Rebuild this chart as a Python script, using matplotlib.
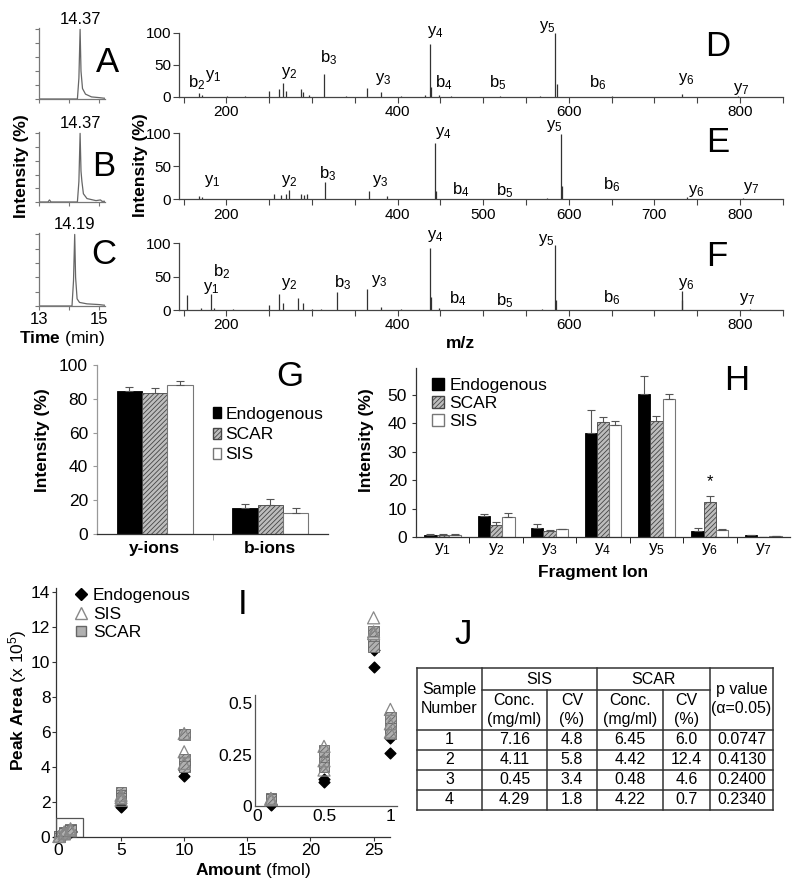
import numpy as np
import matplotlib
matplotlib.use("Agg")
import matplotlib.pyplot as plt
from matplotlib.patches import Patch, Rectangle
from matplotlib.lines import Line2D

plt.rcParams["font.family"] = ["Liberation Sans", "DejaVu Sans"]
plt.rcParams["mathtext.fontset"] = "custom"
plt.rcParams["mathtext.rm"] = "Liberation Sans"
plt.rcParams["mathtext.it"] = "Liberation Sans:italic"
plt.rcParams["mathtext.bf"] = "Liberation Sans:bold"
plt.rcParams["hatch.linewidth"] = 0.6

# ---------------- A-C: chromatograms ----------------
rt_a = [13.0, 14.28, 14.33, 14.37, 14.40, 14.45, 14.55, 14.75, 15.0, 15.2]
int_a = [0, 0, 30, 100, 40, 15, 7, 3, 2, 1]
rt_b = [13.0, 13.30, 13.35, 13.40, 14.28, 14.33, 14.37, 14.40, 14.43, 14.48,
        14.60, 14.90, 15.05, 15.10, 15.2]
int_b = [0, 0, 3, 0, 0, 30, 100, 45, 30, 12, 5, 2, 3, 1, 1]
rt_c = [13.0, 14.10, 14.15, 14.19, 14.22, 14.27, 14.35, 14.60, 15.0, 15.2]
int_c = [0, 0, 35, 100, 40, 10, 5, 3, 2, 1]
apex_labels = ["14.37", "14.37", "14.19"]

# ---------------- D-F: MS/MS spectra ----------------
mz_d = [168.2, 171.0, 200.6, 222, 250.0, 261.6, 266.3, 269.4, 286.8, 289.4, 296.4,
        314.6, 340, 363.9, 380.6, 404.5, 431.6, 437.7, 439.2, 449.0, 462.4, 520,
        566.6, 584.4, 586.0, 650, 731.9, 798.3]
int_d = [7, 3, 1, 1, 10, 12, 22, 10, 12, 8, 3, 36, 1, 14, 8, 2, 3, 83, 15, 3, 2, 1,
         2, 100, 20, 1, 5, 2]
mz_e = [168.2, 171.3, 200.6, 255.8, 263.6, 269.4, 273.2, 286.8, 290.6, 294.4, 315.7,
        367.0, 387.1, 430, 444.3, 445.5, 574.4, 591.0, 592.1, 738.5, 804.0]
int_e = [5, 3, 1, 8, 7, 8, 14, 8, 6, 8, 26, 13, 5, 1, 85, 12, 2, 99, 20, 3, 2]
mz_f = [154.3, 169.8, 181.7, 185.2, 207.5, 250.0, 261.6, 266.6, 283.6, 289.8, 300.2,
        311.1, 329.6, 364.4, 380.6, 404.5, 437.7, 439.2, 449.0, 568.6, 584.4, 585.6,
        731.9, 732.7, 811.8]
int_f = [22.5, 3, 23.5, 3, 1, 7.5, 23.5, 10, 18.5, 10, 2, 1, 26.5, 31, 5, 2, 93.5, 20,
         3, 1, 97.5, 15, 29, 15, 1]

ions_d = ["b$_2$", "y$_1$", "y$_2$", "b$_3$", "y$_3$", "y$_4$", "b$_4$", "b$_5$",
          "y$_5$", "b$_6$", "y$_6$", "y$_7$"]
ions_e = ["y$_1$", "y$_2$", "b$_3$", "y$_3$", "y$_4$", "b$_4$", "b$_5$", "y$_5$",
          "b$_6$", "y$_6$", "y$_7$"]
ions_f = ["y$_1$", "b$_2$", "y$_2$", "b$_3$", "y$_3$", "y$_4$", "b$_4$", "b$_5$",
          "y$_5$", "b$_6$", "y$_6$", "y$_7$"]

# ---------------- G: summed y / b ions ----------------
groups_g = ["y-ions", "b-ions"]
endo_g = [84.8, 15.2]
endo_g_err = [2.0, 2.6]
scar_g = [83.2, 17.2]
scar_g_err = [3.4, 3.5]
sis_g = [88.2, 12.2]
sis_g_err = [2.3, 3.0]

# ---------------- H: individual fragment ions ----------------
ions_h = ["y$_1$", "y$_2$", "y$_3$", "y$_4$", "y$_5$", "y$_6$", "y$_7$"]
endo_h = [0.7, 7.3, 3.3, 36.5, 50.3, 2.2, 0.6]
endo_h_err = [0.2, 0.9, 1.4, 8.2, 6.4, 0.9, 0.1]
scar_h = [0.8, 4.1, 2.2, 40.6, 40.9, 12.2, 0.1]
scar_h_err = [0.1, 1.2, 0.2, 1.5, 1.8, 2.2, 0.05]
sis_h = [0.8, 7.1, 2.7, 39.6, 48.6, 2.6, 0.35]
sis_h_err = [0.1, 1.4, 0.2, 1.2, 1.8, 0.2, 0.05]

# ---------------- I: calibration ----------------
amounts = [0.1, 0.5, 1, 5, 10, 25]
endo_i = [[0.005, 0.118, 0.26, 1.71, 3.47, 9.7],
          [0.008, 0.13, 0.33, 1.75, 3.8, 10.65]]
sis_i = [[0.037, 0.29, 0.47, 2.38, 5.9, 12.5],
         [0.033, 0.22, 0.40, 2.25, 4.86, 11.7],
         [0.03, 0.175, 0.36, 2.1, 4.2, 11.6]]
scar_i = [[0.037, 0.27, 0.43, 2.57, 5.85, 11.75],
          [0.033, 0.21, 0.38, 2.4, 4.4, 11.0],
          [0.03, 0.19, 0.35, 2.2, 4.0, 10.85]]

# ---------------- J: table ----------------
samples = [1, 2, 3, 4]
sis_conc = [7.16, 4.11, 0.45, 4.29]
sis_cv = [4.8, 5.8, 3.4, 1.8]
scar_conc = [6.45, 4.42, 0.48, 4.22]
scar_cv = [6.0, 12.4, 4.6, 0.7]
p_values = [0.0747, 0.4130, 0.2400, 0.2340]

W, H = 800, 892
fig = plt.figure(figsize=(W / 100, H / 100), dpi=100)


def px_axes(left, top, right, bottom):
    return fig.add_axes([left / W, 1 - bottom / H, (right - left) / W, (bottom - top) / H])


def style_axes(ax, color="#333333"):
    ax.spines["top"].set_visible(False)
    ax.spines["right"].set_visible(False)
    for s in ("left", "bottom"):
        ax.spines[s].set_color(color)
        ax.spines[s].set_linewidth(0.9)
    ax.tick_params(colors=color, labelcolor="black", direction="out")


# ---- chromatograms ----
chrom = [(rt_a, int_a, 28, 99), (rt_b, int_b, 132, 202), (rt_c, int_c, 233, 306)]
for i, (t, y, top, bot) in enumerate(chrom):
    ax = px_axes(39, top, 105, bot)
    ax.plot(t, y, color="#666666", lw=0.9)
    ax.set_xlim(13, 15.2)
    ax.set_ylim(0, 102)
    style_axes(ax, "#777777")
    ax.set_yticks([0, 20, 40, 60, 80, 100])
    ax.set_yticklabels([])
    ax.set_xticks([13, 14, 15])
    if i == 2:
        ax.set_xticklabels(["13", "", "15"], fontsize=12)
    else:
        ax.set_xticklabels([])
    ax.tick_params(length=3, pad=1)
    ax.text(14.37 if i < 2 else 14.19, 104, apex_labels[i], ha="center", va="bottom",
            fontsize=12)

# ---- spectra ----
spectra = [
    (mz_d, int_d, ions_d,
     [(165.5, 22), (185, 33), (273.5, 37.5), (320, 61), (383.5, 28), (444, 102),
      (454.5, 22), (517, 23), (575, 109), (634, 23), (737, 28), (802, 12.5)],
     33, 97, [200, 400, 600, 800]),
    (mz_e, int_e, ions_e,
     [(183, 28), (273.5, 28), (318.5, 38.5), (380, 28), (453, 100), (474, 14),
      (525, 12.5), (583, 111), (650, 21.5), (749, 12.5), (813, 17)],
     133.3, 199.3, [200, 400, 500, 600, 700, 800]),
    (mz_f, int_f, ions_f,
     [(182, 33), (194.5, 57), (273.5, 39), (336, 40.5), (379, 43.5), (444, 111),
      (470.5, 16.5), (525, 13.5), (574, 105), (650, 18), (737, 39), (808, 16.5)],
     243.3, 310, [200, 400, 600, 800]),
]
for mz, inten, ions, pos, top, bot, shown in spectra:
    ax = px_axes(179.3, top, 782.7, bot)
    ax.vlines(mz, 0, inten, color="#333333", lw=0.9)
    ax.set_xlim(145, 845)
    ax.set_ylim(0, 100)
    style_axes(ax, "#444444")
    ticks = list(range(150, 851, 50))
    ax.set_xticks(ticks)
    ax.set_xticklabels([str(v) if v in shown else "" for v in ticks], fontsize=11)
    ax.set_yticks([0, 50, 100])
    ax.set_yticklabels(["0", "50", "100"], fontsize=11)
    ax.tick_params(length=4, pad=2)
    for lab, (x, y) in zip(ions, pos):
        ax.text(x, y, lab, ha="center", va="center", fontsize=12, clip_on=False)

# ---- G ----
axg = px_axes(97, 365, 328, 534)
xg = np.arange(len(groups_g))
bw = 0.22
axg.bar(xg - bw, endo_g, bw, color="black", edgecolor="black", lw=0.6)
axg.bar(xg, scar_g, bw, color="#bdbdbd", edgecolor="#444444", hatch="///////", lw=0.6)
axg.bar(xg + bw, sis_g, bw, color="white", edgecolor="#777777", lw=0.8)
for off, vals, err in [(-bw, endo_g, endo_g_err), (0, scar_g, scar_g_err),
                       (bw, sis_g, sis_g_err)]:
    axg.errorbar(xg + off, vals, yerr=[np.zeros(len(err)), err], fmt="none",
                 ecolor="#555555", elinewidth=0.8, capsize=3, capthick=0.8)
axg.set_xlim(-0.5, 1.5)
axg.set_ylim(0, 100)
style_axes(axg, "#333333")
axg.spines["left"].set_color("#999999")
axg.set_yticks(range(0, 101, 20))
axg.tick_params(axis="y", labelsize=12.5, length=3, colors="#999999", labelcolor="black")
axg.set_xticks(xg)
axg.set_xticklabels(groups_g, fontsize=12.5, fontweight="bold")
axg.tick_params(axis="x", length=0, pad=5)
axg.set_xticks([0.5], minor=True)
axg.tick_params(axis="x", which="minor", length=4, color="#999999")
leg_handles = [Patch(facecolor="black", edgecolor="black"),
               Patch(facecolor="#bdbdbd", edgecolor="#444444", hatch="///////"),
               Patch(facecolor="white", edgecolor="#777777")]
axg.legend(leg_handles, ["Endogenous", "SCAR", "SIS"], loc="upper left",
           bbox_to_anchor=(213 / W, 1 - 407 / H), bbox_transform=fig.transFigure,
           frameon=False, fontsize=12.5, handlelength=0.45, handleheight=0.6,
           handletextpad=0.25, labelspacing=0.3, borderpad=0, borderaxespad=0)

# ---- H ----
axh = px_axes(416, 368, 790, 537)
xh = np.arange(len(ions_h))
bw = 0.23
axh.bar(xh - bw, endo_h, bw, color="black", edgecolor="black", lw=0.6)
axh.bar(xh, scar_h, bw, color="#bdbdbd", edgecolor="#444444", hatch="///////", lw=0.6)
axh.bar(xh + bw, sis_h, bw, color="white", edgecolor="#777777", lw=0.8)
for off, vals, err in [(-bw, endo_h, endo_h_err), (0, scar_h, scar_h_err),
                       (bw, sis_h, sis_h_err)]:
    axh.errorbar(xh + off, vals, yerr=[np.zeros(len(err)), err], fmt="none",
                 ecolor="#555555", elinewidth=0.8, capsize=3, capthick=0.8)
axh.text(5, 19.4, "*", ha="center", va="center", fontsize=12)
axh.set_xlim(-0.5, 6.5)
axh.set_ylim(0, 59.5)
style_axes(axh, "#333333")
axh.set_yticks(range(0, 51, 10))
axh.tick_params(axis="y", labelsize=12.5, length=3)
axh.set_xticks(xh)
axh.set_xticklabels(ions_h, fontsize=12.5)
axh.tick_params(axis="x", length=0, pad=3)
axh.set_xticks(np.arange(0.5, 6, 1), minor=True)
axh.tick_params(axis="x", which="minor", length=4)
axh.legend(leg_handles, ["Endogenous", "SCAR", "SIS"], loc="upper left",
           bbox_to_anchor=(432 / W, 1 - 378 / H), bbox_transform=fig.transFigure,
           frameon=False, fontsize=12.5, handlelength=0.7, handleheight=0.7,
           handletextpad=0.3, labelspacing=0.15, borderpad=0, borderaxespad=0)

# ---- I ----
axi = px_axes(56, 588, 390, 837)


def draw_cal(ax):
    for rep in endo_i:
        ax.scatter(amounts, rep, marker="D", s=30, color="black", zorder=3,
                   clip_on=False)
    for rep in scar_i:
        ax.scatter(amounts, rep, marker="s", s=60, facecolor="#b0b0b0",
                   edgecolor="#666666", hatch="//////", lw=0.6, zorder=4, clip_on=False)
    for rep in sis_i:
        ax.scatter(amounts, rep, marker="^", s=75, facecolor="none",
                   edgecolor="#888888", lw=0.9, zorder=5, clip_on=False)


draw_cal(axi)
axi.set_xlim(-0.15, 26.3)
axi.set_ylim(0, 14.2)
style_axes(axi, "#333333")
axi.set_xticks(range(0, 26, 5))
axi.set_yticks(range(0, 15, 2))
axi.tick_params(labelsize=12.5, length=3, pad=1)
axi.add_patch(Rectangle((-0.15, 0), 2.1, 1.1, fill=False, edgecolor="#555555", lw=0.9,
                        zorder=6))
axi.legend([Line2D([], [], marker="D", color="black", ls="none", markersize=6),
            Line2D([], [], marker="^", markerfacecolor="none", markeredgecolor="#888888",
                   ls="none", markersize=9),
            Line2D([], [], marker="s", markerfacecolor="#b0b0b0",
                   markeredgecolor="#666666", ls="none", markersize=7)],
           ["Endogenous", "SIS", "SCAR"], loc="upper left",
           bbox_to_anchor=(74 / W, 1 - 588 / H), bbox_transform=fig.transFigure,
           frameon=False, fontsize=12.5, handlelength=0.8, handletextpad=0.3,
           labelspacing=0.2, borderpad=0, borderaxespad=0)

axin = px_axes(255, 695, 397, 806)
axin.patch.set_alpha(0)
draw_cal(axin)
axin.set_xlim(-0.02, 1.05)
axin.set_ylim(0, 0.54)
style_axes(axin, "#555555")
axin.set_xticks([0, 0.5, 1])
axin.set_xticklabels(["0", "0.5", "1"])
axin.set_yticks([0, 0.25, 0.5])
axin.set_yticklabels(["0", "0.25", "0.5"])
axin.tick_params(labelsize=12.5, length=0, pad=2)

# ---- figure-level text and table J ----
axf = fig.add_axes([0, 0, 1, 1])
axf.set_xlim(0, W)
axf.set_ylim(H, 0)
axf.axis("off")

for letter, x, y in [("A", 107, 62), ("B", 104, 166), ("C", 104, 254), ("D", 718, 47),
                     ("E", 718, 143), ("F", 717, 257), ("G", 290, 377), ("H", 737, 380),
                     ("I", 243, 605), ("J", 463, 635)]:
    axf.text(x, y, letter, ha="center", va="center", fontsize=25)

bold_lab = dict(fontsize=12.5, fontweight="bold", ha="center", va="center")
axf.text(22, 166, "Intensity (%)", rotation=90, **bold_lab)
axf.text(140, 165, "Intensity (%)", rotation=90, **bold_lab)
axf.text(43, 440, "Intensity (%)", rotation=90, **bold_lab)
axf.text(366, 440, "Intensity (%)", rotation=90, **bold_lab)
axf.text(460, 343, "m/z", **bold_lab)
axf.text(593, 572, "Fragment Ion", **bold_lab)
axf.text(62, 338, r"$\bf{Time}$ (min)", fontsize=12.5, ha="center", va="center")
axf.text(18, 700, r"$\bf{Peak\ Area}$ (x 10$^5$)", fontsize=12.5, rotation=90,
         ha="center", va="center")
axf.text(253, 870, r"$\bf{Amount}$ (fmol)", fontsize=12.5, ha="center", va="center")

cols = [417, 482, 547, 597, 663, 710, 773]
rows = [668, 690, 730, 750, 770, 790, 810]
lc = dict(color="#333333", lw=1.1)
for y in [668, 730, 750, 770, 790, 810]:
    axf.plot([cols[0], cols[-1]], [y, y], **lc)
axf.plot([cols[1], cols[5]], [690, 690], **lc)
for x in [cols[0], cols[1], cols[3], cols[5], cols[6]]:
    axf.plot([x, x], [668, 810], **lc)
for x in [cols[2], cols[4]]:
    axf.plot([x, x], [690, 810], **lc)

tk = dict(fontsize=11.5, ha="center", va="center", linespacing=1.3)
mid = lambda a, b: (a + b) / 2
axf.text(mid(cols[0], cols[1]), 699, "Sample\nNumber", **tk)
axf.text(mid(cols[1], cols[3]), 679, "SIS", **tk)
axf.text(mid(cols[3], cols[5]), 679, "SCAR", **tk)
axf.text(mid(cols[1], cols[2]), 710, "Conc.\n(mg/ml)", **tk)
axf.text(mid(cols[2], cols[3]), 710, "CV\n(%)", **tk)
axf.text(mid(cols[3], cols[4]), 710, "Conc.\n(mg/ml)", **tk)
axf.text(mid(cols[4], cols[5]), 710, "CV\n(%)", **tk)
axf.text(mid(cols[5], cols[6]), 699, "p value\n(\u03b1=0.05)", **tk)
for i in range(len(samples)):
    yc = mid(rows[i + 2], rows[i + 3])
    cells = [str(samples[i]), f"{sis_conc[i]:.2f}", f"{sis_cv[i]:.1f}",
             f"{scar_conc[i]:.2f}", f"{scar_cv[i]:.1f}", f"{p_values[i]:.4f}"]
    for j, c in enumerate(cells):
        axf.text(mid(cols[j], cols[j + 1]), yc, c, **tk)

fig.savefig("out.png", dpi=100)
